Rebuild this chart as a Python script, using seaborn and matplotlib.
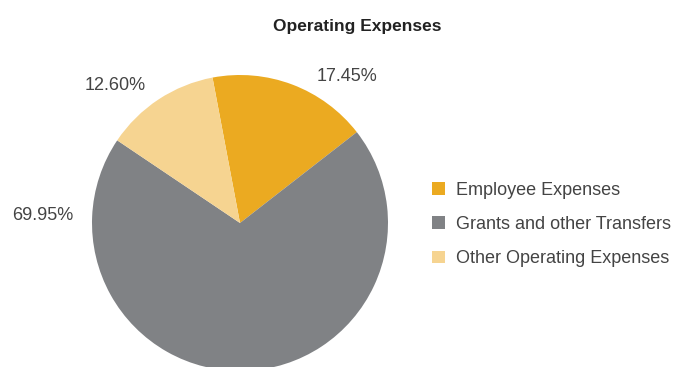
import matplotlib
matplotlib.use("Agg")
import matplotlib.pyplot as plt
import seaborn as sns

# Operating expense shares (%)
categories = ["Employee Expenses", "Grants and other Transfers", "Other Operating Expenses"]
shares = [17.45, 69.95, 12.60]
value_labels = ["17.45%", "69.95%", "12.60%"]
colors = ["#EBAA21", "#808285", "#F6D491"]

sns.set_theme(style="white")
plt.rcParams["font.family"] = ["Liberation Sans", "DejaVu Sans"]
palette = sns.color_palette(colors)

W, H = 677, 367
fig = plt.figure(figsize=(W / 100, H / 100), dpi=100)

# pie centre and radius in pixels; the lower part runs off the canvas
cx, cy, r = 240, 223, 148
ax = fig.add_axes([(cx - r) / W, (H - cy - r) / H, 2 * r / W, 2 * r / H])
wedges, _ = ax.pie(shares, colors=palette, startangle=100.7, counterclock=False,
                   radius=1.0, wedgeprops=dict(linewidth=0))
ax.set_xlim(-1, 1)
ax.set_ylim(-1, 1)
ax.set_aspect("equal")
ax.axis("off")

# value labels placed around the rim (data units of the pie)
label_pos = [(0.723, 0.993), (-1.331, 0.054), (-0.845, 0.926)]
for (x, y), txt in zip(label_pos, value_labels):
    ax.text(x, y, txt, ha="center", va="center", fontsize=13, color="#444444",
            clip_on=False)

fig.text(357 / W, 1 - 26 / H, "Operating Expenses", ha="center", va="center",
         fontsize=12.5, fontweight="bold", color="#222222")

fig.legend(wedges, categories, loc="upper left",
           bbox_to_anchor=(432 / W, 1 - 182 / H), frameon=False,
           fontsize=13, handlelength=0.72, handleheight=0.72,
           handletextpad=0.6, labelspacing=0.95, borderpad=0,
           borderaxespad=0, labelcolor="#444444")

fig.savefig("out.png", dpi=100)
